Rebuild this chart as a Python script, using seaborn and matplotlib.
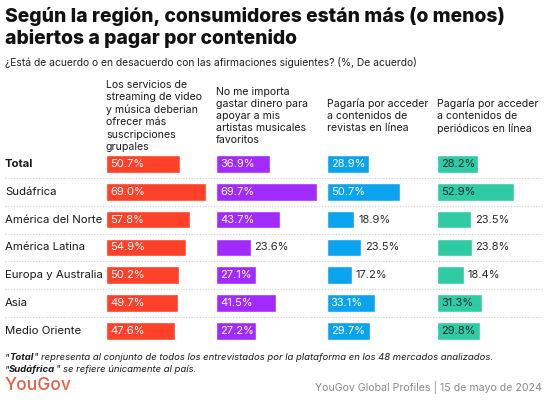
import matplotlib
matplotlib.use("Agg")
import matplotlib.pyplot as plt
import seaborn as sns
import pandas as pd

regions = ["Total", "Sudáfrica", "América del Norte", "América Latina",
           "Europa y Australia", "Asia", "Medio Oriente"]
headers = [
    "Los servicios de\nstreaming de video\ny música deberian\nofrecer más\nsuscripciones\ngrupales",
    "No me importa\ngastar dinero para\napoyar a mis\nartistas musicales\nfavoritos",
    "Pagaría por acceder\na contenidos de\nrevistas en línea",
    "Pagaría por acceder\na contenidos de\nperiódicos en línea",
]
streaming = [50.7, 69.0, 57.8, 54.9, 50.2, 49.7, 47.6]
artistas = [36.9, 69.7, 43.7, 23.6, 27.1, 41.5, 27.2]
revistas = [28.9, 50.7, 18.9, 23.5, 17.2, 33.1, 29.7]
periodicos = [28.2, 52.9, 23.5, 23.8, 18.4, 31.3, 29.8]
series = [streaming, artistas, revistas, periodicos]
colors = ["#FF4129", "#A12BFF", "#0AA3EE", "#2FCBA5"]
inside_text = ["white", "white", "white", "#2a2a2a"]

FONT = "Inter"
sns.set_theme(style="white")
plt.rcParams["font.family"] = [FONT, "DejaVu Sans"]

W, H = 547, 404
fig = plt.figure(figsize=(W / 100, H / 100), dpi=100)
fig.patch.set_facecolor("white")

top_px, bot_px = 150.1, 344.7
ax_b = 1 - bot_px / H
ax_h = (bot_px - top_px) / H
scale = 1.45  # px per percent
ax_w_px = 108

# background axis for row labels and separators
bg = fig.add_axes([0, ax_b, 1, ax_h])
bg.set_xlim(0, W)
bg.set_ylim(len(regions) - 0.5, -0.5)
bg.axis("off")
for i in range(len(regions) - 1):
    bg.plot([5, 542], [i + 0.5, i + 0.5], color="#cfcfcf", lw=0.8,
            linestyle=(0, (1, 1.5)))
for i, r in enumerate(regions):
    bg.text(5, i, r, va="center", ha="left", fontsize=8.2, color="#1a1a1a",
            fontweight="bold" if r == "Total" else "normal")

lefts = [106, 216.3, 326.7, 437]
for k, (vals, col) in enumerate(zip(series, colors)):
    df = pd.DataFrame({"region": regions, "value": vals})
    ax = fig.add_axes([lefts[k] / W, ax_b, ax_w_px / W, ax_h])
    sns.barplot(data=df, x="value", y="region", orient="h", color=col,
                width=0.63, ax=ax, saturation=1)
    ax.set_xlim(0, ax_w_px / scale)
    ax.set_ylim(len(regions) - 0.5, -0.5)
    ax.axis("off")
    ax.patch.set_alpha(0)
    for i, v in enumerate(vals):
        lab = f"{v:.1f}%"
        if v >= 25:
            ax.text(4 / scale, i, lab, va="center", ha="left", fontsize=8,
                    color=inside_text[k])
        else:
            ax.text(v + 4 / scale, i, lab, va="center", ha="left", fontsize=8,
                    color="#2a2a2a")
    fig.text(lefts[k] / W, 1 - 116 / H, headers[k], ha="left", va="center",
             fontsize=7.6, color="#1a1a1a", linespacing=1.28)

# titles
fig.text(5 / W, 1 - 17 / H, "Según la región, consumidores están más (o menos)",
         ha="left", va="center", fontsize=13.9, fontweight="heavy", color="#111111")
fig.text(5 / W, 1 - 38 / H, "abiertos a pagar por contenido",
         ha="left", va="center", fontsize=13.9, fontweight="heavy", color="#111111")
fig.text(5 / W, 1 - 63 / H,
         "¿Está de acuerdo o en desacuerdo con las afirmaciones siguientes? (%, De acuerdo)",
         ha="left", va="center", fontsize=7.45, color="#222222")


def rich_line(y_px, parts, size=6.85):
    x = 5 / W
    renderer = fig.canvas.get_renderer()
    for txt, bold in parts:
        t = fig.text(x, 1 - y_px / H, txt, ha="left", va="center", fontsize=size,
                     style="italic", fontweight="bold" if bold else "normal",
                     color="#1a1a1a")
        bb = t.get_window_extent(renderer=renderer)
        x += bb.width / W


rich_line(358, [("\"", False), ("Total", True),
                ("\" representa al conjunto de todos los entrevistados por la plataforma en los 48 mercados analizados.", False)])
rich_line(369.5, [("\"", False), ("Sudáfrica", True),
                  ("\" se refiere únicamente al país.", False)])

fig.text(5 / W, 1 - 386 / H, "YouGov", ha="left", va="center", fontsize=12.5,
         fontweight="medium", color="#E85E48")
fig.text(542 / W, 1 - 388 / H, "YouGov Global Profiles | 15 de mayo de 2024",
         ha="right", va="center", fontsize=7.6, color="#8a8a8a")

fig.savefig("out.png", dpi=100, facecolor="white")
